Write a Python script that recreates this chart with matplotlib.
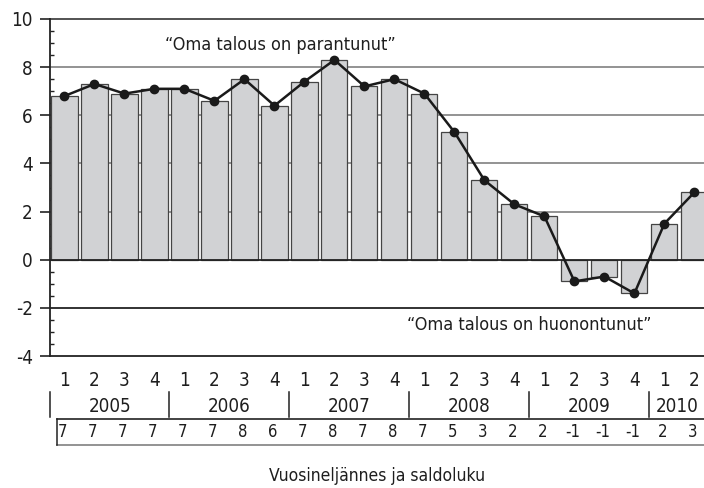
import matplotlib
matplotlib.use("Agg")
import matplotlib.pyplot as plt
import matplotlib.transforms as mtrans
import numpy as np

quarters = ["1", "2", "3", "4"] * 5 + ["1", "2"]
years = ["2005", "2006", "2007", "2008", "2009", "2010"]
bar_values = [6.8, 7.3, 6.9, 7.1, 7.1, 6.6, 7.5, 6.4, 7.4, 8.3, 7.2, 7.5,
              6.9, 5.3, 3.3, 2.3, 1.8, -0.9, -0.7, -1.4, 1.5, 2.8]
line_values = [6.8, 7.3, 6.9, 7.1, 7.1, 6.6, 7.5, 6.4, 7.4, 8.3, 7.2, 7.5,
               6.9, 5.3, 3.3, 2.3, 1.8, -0.9, -0.7, -1.4, 1.5, 2.8]
saldo_labels = ["7", "7", "7", "7", "7", "7", "8", "6", "7", "8", "7", "8",
                "7", "5", "3", "2", "2", "-1", "-1", "-1", "2", "3"]
yticks = [-4, -2, 0, 2, 4, 6, 8, 10]
note_up = "\u201cOma talous on parantunut\u201d"
note_down = "\u201cOma talous on huonontunut\u201d"
xlabel = "Vuosineljännes ja saldoluku"

plt.rcParams['font.family'] = ['DejaVu Sans']
FS = dict(fontstretch='condensed')
TXT = '#1e1e1e'

W, H = 704, 488
fig = plt.figure(figsize=(W / 100, H / 100), dpi=100)
ax = fig.add_axes([50 / W, (H - 356) / H, 1 - 50 / W, (356 - 19) / H])

x = np.arange(len(bar_values))
ax.set_xlim(-0.483, 21.32)
ax.set_ylim(-4, 10)

for g in [2, 4, 6, 8]:
    ax.axhline(g, color='#8a8a8a', lw=1.3, zorder=1)
ax.axhline(10, color='#444444', lw=1.3, zorder=1, clip_on=False)
ax.axhline(-2, color='#222222', lw=1.3, zorder=1)

ax.bar(x, bar_values, width=0.87, color='#d1d2d4', edgecolor='#444444',
       linewidth=0.9, zorder=2)
ax.axhline(0, color='#222222', lw=1.3, zorder=3)
ax.plot(x, line_values, color='#1a1a1a', lw=1.8, marker='o', markersize=6,
        zorder=4)

for s in ['top', 'right']:
    ax.spines[s].set_visible(False)
ax.spines['left'].set_color('#222222')
ax.spines['bottom'].set_color('#222222')
ax.spines['left'].set_linewidth(1.3)
ax.spines['bottom'].set_linewidth(1.3)

ax.set_yticks(yticks)
ax.set_yticklabels([str(v) for v in yticks], fontsize=13.5, color=TXT, **FS)
ax.set_yticks(np.arange(-4, 10.01, 0.5), minor=True)
ax.tick_params(axis='y', which='major', direction='out', length=7.5,
               width=1.2, pad=5, color='#222222')
ax.tick_params(axis='y', which='minor', direction='in', length=3,
               width=1.0, color='#222222')
ax.set_xticks([])

ax.text(7.2, 8.92, note_up, fontsize=13, ha='center', va='center',
        color=TXT, **FS)
ax.text(15.5, -2.7, note_down, fontsize=13, ha='center', va='center',
        color=TXT, **FS)

tr = mtrans.blended_transform_factory(ax.transData, fig.transFigure)

def fy(px):
    return 1 - px / H

for i, q in enumerate(quarters):
    ax.text(x[i], fy(381), q, transform=tr, ha='center', va='center',
            fontsize=13.5, color=TXT, clip_on=False, **FS)

xmin, xmax = ax.get_xlim()
seps = [-0.483, 3.5, 7.5, 11.5, 15.5, 19.5]
ends = seps[1:] + [xmax]
for s, e, yr in zip(seps, ends, years):
    ax.plot([s, s], [fy(392), fy(417)], transform=tr, color='#222222',
            lw=1.1, clip_on=False)
    ax.text((s + e) / 2, fy(406), yr, transform=tr, ha='center',
            va='center', fontsize=13.5, color=TXT, clip_on=False, **FS)

bl = (57 - 64.5) / 30.0
ax.plot([bl, xmax + 1], [fy(419), fy(419)], transform=tr, color='#222222',
        lw=1.2, clip_on=False)
ax.plot([bl, xmax + 1], [fy(445), fy(445)], transform=tr, color='#8a8a8a',
        lw=1.3, clip_on=False)
ax.plot([bl, bl], [fy(419), fy(445)], transform=tr, color='#222222',
        lw=1.1, clip_on=False)
for i, lab in enumerate(saldo_labels):
    ax.text(x[i] - 0.07, fy(432), lab, transform=tr, ha='center',
            va='center', fontsize=12, color=TXT, clip_on=False, **FS)

fig.text(377 / W, fy(476), xlabel, ha='center', va='center', fontsize=12.5,
         color=TXT, **FS)

fig.savefig("out.png", dpi=100)
